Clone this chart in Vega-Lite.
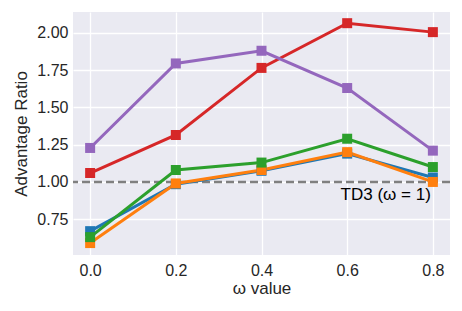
{
  "$schema": "https://vega.github.io/schema/vega-lite/v6.json",
  "autosize": "none",
  "width": 377,
  "height": 243,
  "padding": {"left": 73, "top": 12, "right": 12, "bottom": 56},
  "background": "white",
  "config": {
    "view": {"fill": "#EAEAF2", "stroke": null},
    "font": "Liberation Sans",
    "axis": {
      "domain": false,
      "ticks": false,
      "gridColor": "white",
      "gridWidth": 1.3,
      "labelColor": "#262626",
      "titleColor": "#262626",
      "labelFontSize": 16,
      "titleFontSize": 17,
      "titleFontWeight": "normal",
      "labelFont": "Liberation Sans",
      "titleFont": "Liberation Sans"
    }
  },
  "datasets": {
    "series": [
      {"series": "A", "omega": 0.0, "ratio": 0.67},
      {"series": "A", "omega": 0.2, "ratio": 0.985},
      {"series": "A", "omega": 0.4, "ratio": 1.075},
      {"series": "A", "omega": 0.6, "ratio": 1.19},
      {"series": "A", "omega": 0.8, "ratio": 1.03},
      {"series": "B", "omega": 0.0, "ratio": 0.59},
      {"series": "B", "omega": 0.2, "ratio": 0.99},
      {"series": "B", "omega": 0.4, "ratio": 1.08},
      {"series": "B", "omega": 0.6, "ratio": 1.2},
      {"series": "B", "omega": 0.8, "ratio": 1.0},
      {"series": "C", "omega": 0.0, "ratio": 0.63},
      {"series": "C", "omega": 0.2, "ratio": 1.08},
      {"series": "C", "omega": 0.4, "ratio": 1.13},
      {"series": "C", "omega": 0.6, "ratio": 1.29},
      {"series": "C", "omega": 0.8, "ratio": 1.1},
      {"series": "D", "omega": 0.0, "ratio": 1.06},
      {"series": "D", "omega": 0.2, "ratio": 1.315},
      {"series": "D", "omega": 0.4, "ratio": 1.765},
      {"series": "D", "omega": 0.6, "ratio": 2.065},
      {"series": "D", "omega": 0.8, "ratio": 2.005},
      {"series": "E", "omega": 0.0, "ratio": 1.228},
      {"series": "E", "omega": 0.2, "ratio": 1.795},
      {"series": "E", "omega": 0.4, "ratio": 1.88},
      {"series": "E", "omega": 0.6, "ratio": 1.63},
      {"series": "E", "omega": 0.8, "ratio": 1.21}
    ],
    "ref": [{"y": 1.0}],
    "label": [{"omega": 0.8, "ratio": 0.91, "text": "TD3 (ω = 1)"}]
  },
  "layer": [
    {
      "data": {"name": "ref"},
      "mark": {"type": "rule", "color": "#808080", "strokeWidth": 2.5, "strokeDash": [8, 4]},
      "encoding": {"y": {"field": "y", "type": "quantitative"}}
    },
    {
      "data": {"name": "series"},
      "mark": {
        "type": "line",
        "strokeWidth": 3,
        "point": {"shape": "square", "filled": true, "size": 100, "opacity": 1}
      },
      "encoding": {
        "x": {
          "field": "omega", "type": "quantitative",
          "scale": {"domain": [-0.04, 0.84], "nice": false, "zero": false},
          "axis": {"values": [0, 0.2, 0.4, 0.6, 0.8], "format": ".1f", "title": "ω value", "labelPadding": 7, "titlePadding": 2}
        },
        "y": {
          "field": "ratio", "type": "quantitative",
          "scale": {"domain": [0.51, 2.14], "nice": false, "zero": false},
          "axis": {"values": [0.75, 1.0, 1.25, 1.5, 1.75, 2.0], "format": ".2f", "title": "Advantage Ratio", "labelPadding": 5, "titlePadding": 6}
        },
        "color": {
          "field": "series", "type": "nominal",
          "scale": {"domain": ["A", "B", "C", "D", "E"], "range": ["#1f77b4", "#ff7f0e", "#2ca02c", "#d62728", "#9467bd"]},
          "legend": null
        }
      }
    },
    {
      "data": {"name": "label"},
      "mark": {"type": "text", "align": "right", "baseline": "middle", "fontSize": 17, "color": "#000000", "dx": -2, "font": "Liberation Sans"},
      "encoding": {
        "x": {"field": "omega", "type": "quantitative"},
        "y": {"field": "ratio", "type": "quantitative"},
        "text": {"field": "text"}
      }
    }
  ]
}
